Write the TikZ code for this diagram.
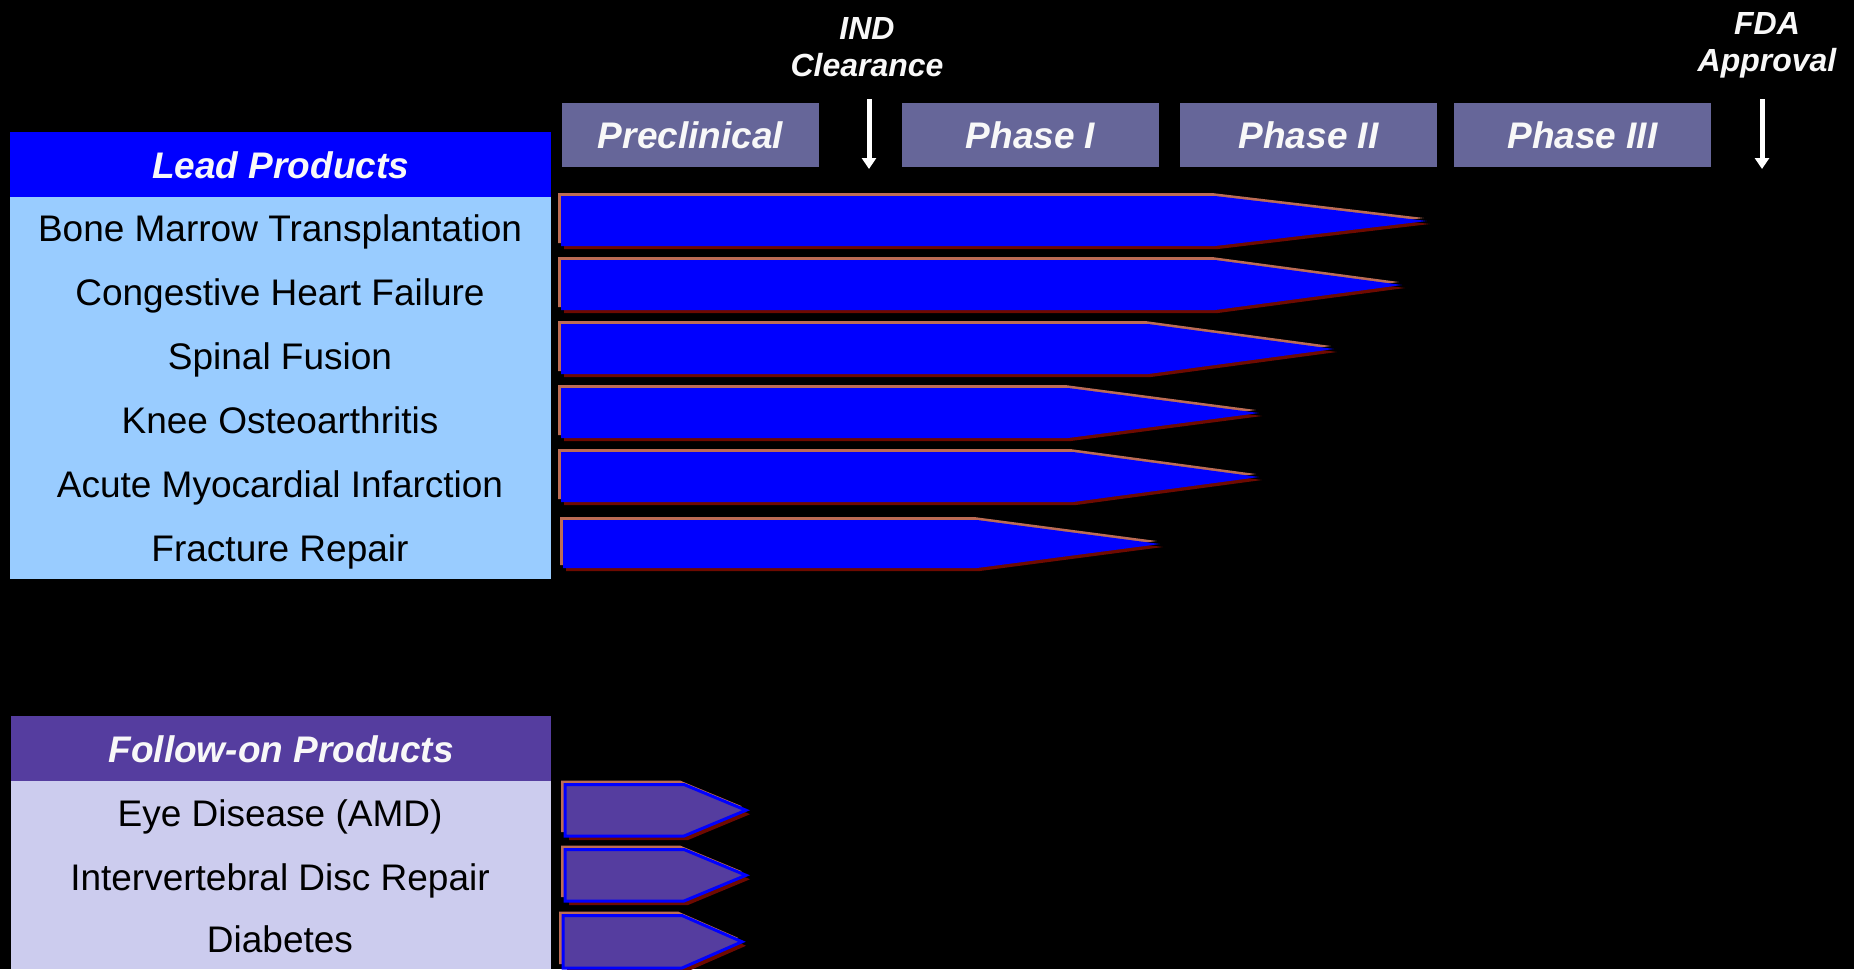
\documentclass[tikz,border=0pt]{standalone}
\usepackage{fontspec}
\setmainfont{Liberation Sans}
\usetikzlibrary{arrows.meta}
\definecolor{leadblue}{HTML}{0000FF}
\definecolor{lightpanel}{HTML}{99CCFF}
\definecolor{followpurple}{HTML}{553D9F}
\definecolor{lavender}{HTML}{CCCCEE}
\definecolor{phasecol}{HTML}{666699}
\definecolor{edgelight}{HTML}{BC6C55}
\definecolor{edgedark}{HTML}{6E0A00}
\definecolor{offwhite}{HTML}{F8F8F8}
\newcommand\myleadbar[5]{%
  \fill[edgedark,shift={(3,3)}] (#1,#2) -- (#4,#2) -- (#5,{(#2+#3)/2}) -- (#4,#3) -- (#1,#3) -- cycle;
  \fill[edgelight,shift={(-3,-3)}] (#1,#2) -- (#4,#2) -- (#5,{(#2+#3)/2}) -- (#4,#3) -- (#1,#3) -- cycle;
  \fill[leadblue] (#1,#2) -- (#4,#2) -- (#5,{(#2+#3)/2}) -- (#4,#3) -- (#1,#3) -- cycle;}
\newcommand\myfollowbar[5]{%
  \fill[edgedark,shift={(4,4)}] (#1,#2) -- (#4,#2) -- (#5,{(#2+#3)/2}) -- (#4,#3) -- (#1,#3) -- cycle;
  \fill[edgelight,shift={(-4,-4)}] (#1,#2) -- (#4,#2) -- (#5,{(#2+#3)/2}) -- (#4,#3) -- (#1,#3) -- cycle;
  \filldraw[fill=followpurple,draw=leadblue,line width=3pt,line join=miter] (#1,#2) -- (#4,#2) -- (#5,{(#2+#3)/2}) -- (#4,#3) -- (#1,#3) -- cycle;}
\begin{document}
\begin{tikzpicture}[x=1pt,y=-1pt,
  headtext/.style={font=\fontsize{37}{44}\selectfont\bfseries\itshape, text=offwhite},
  rowtext/.style={font=\fontsize{37}{44}\selectfont, text=black, anchor=base, inner sep=0pt},
  phasebox/.style={fill=phasecol, minimum width=257pt, minimum height=64pt, inner sep=0pt,
    text height=26pt, text depth=0pt, headtext},
  milestone/.style={font=\fontsize{32}{37}\selectfont\bfseries\itshape, text=offwhite, align=center,
    anchor=south, inner sep=0pt, text depth=0pt},
  milearrow/.style={draw=white, line width=5pt, -{Triangle[width=14pt,length=11pt]}}]
\useasboundingbox (0,0) rectangle (1854,969);
\fill[black] (0,0) rectangle (1854,969);

% phase boxes
\node[phasebox] (precl) at (690.5,135) {Preclinical};
\node[phasebox] (ph1) at (1030.5,135) {Phase I};
\node[phasebox] (ph2) at (1308.5,135) {Phase II};
\node[phasebox] (ph3) at (1582.5,135) {Phase III};

% milestones
\node[milestone] (ind) at (867,77) {IND\\Clearance};
\node[milestone] (fda) at (1767,72) {FDA\\Approval};
\coordinate (indtop) at (869,99);
\coordinate (indbot) at (869,169);
\coordinate (fdatop) at (1762,99);
\coordinate (fdabot) at (1762,169);
\draw[milearrow] (indtop) -- (indbot);
\draw[milearrow] (fdatop) -- (fdabot);

% lead products panel
\node[fill=leadblue, minimum width=541pt, minimum height=65pt, inner sep=0pt, anchor=north west,
  text height=27pt, text depth=0pt, headtext] (leadhead) at (10,132) {Lead Products};
\node[fill=lightpanel, minimum width=541pt, minimum height=382pt, inner sep=0pt, anchor=north west] (leadpanel) at (10,197) {};
\node[rowtext] (r1) at (280,241) {Bone Marrow Transplantation};
\node[rowtext] (r2) at (280,305) {Congestive Heart Failure};
\node[rowtext] (r3) at (280,369) {Spinal Fusion};
\node[rowtext] (r4) at (280,433) {Knee Osteoarthritis};
\node[rowtext] (r5) at (280,497) {Acute Myocardial Infarction};
\node[rowtext] (r6) at (280,561) {Fracture Repair};

% follow-on products panel
\node[fill=followpurple, minimum width=540pt, minimum height=65pt, inner sep=0pt, anchor=north west,
  text height=27pt, text depth=0pt, headtext] (followhead) at (11,716) {Follow-on Products};
\node[fill=lavender, minimum width=540pt, minimum height=188pt, inner sep=0pt, anchor=north west] (followpanel) at (11,781) {};
\node[rowtext] (f1) at (280,826) {Eye Disease (AMD)};
\node[rowtext] (f2) at (280,890) {Intervertebral Disc Repair};
\node[rowtext] (f3) at (280,952) {Diabetes};

% lead bars
\myleadbar{561}{196}{246}{1215}{1427}
\myleadbar{561}{260}{310}{1215}{1402}
\myleadbar{561}{324}{374}{1148}{1334}
\myleadbar{561}{388}{438}{1068}{1259}
\myleadbar{561}{452}{502}{1073}{1259}
\myleadbar{563}{520}{568}{977}{1160}

% follow-on bars
\myfollowbar{565}{784.5}{836}{684}{746}
\myfollowbar{565}{849.5}{901}{684}{746}
\myfollowbar{563}{915.5}{968}{682}{742}
\end{tikzpicture}
\end{document}
